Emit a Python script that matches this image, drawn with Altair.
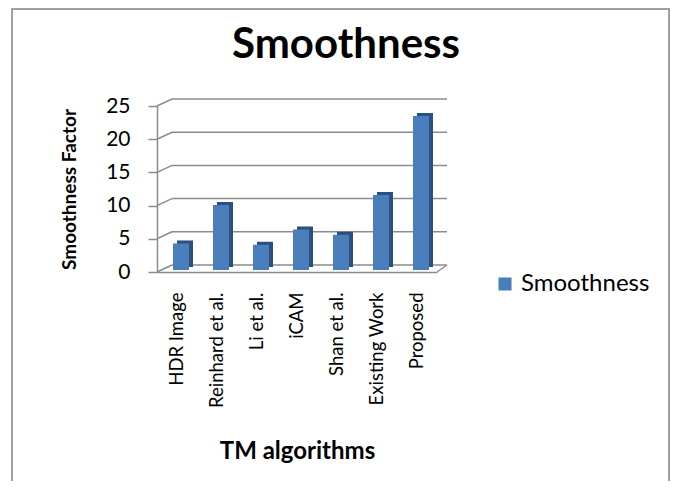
import altair as alt
import pandas as pd

categories = ["HDR Image", "Reinhard et al.", "Li et al.", "iCAM", "Shan et al.", "Existing Work", "Proposed"]
values = [4.0, 9.8, 3.8, 6.1, 5.3, 11.3, 23.2]
series_name = "Smoothness"
chart_title = "Smoothness"
y_ticks = [0, 5, 10, 15, 20, 25]

df = pd.DataFrame({"cat": categories, "val": values, "series": [series_name] * len(categories)})
grid = pd.DataFrame({"v": y_ticks})

W, H = 280, 166
FONT = "Lato"
GRID = "#8c8c8c"
BORDER = "#a0a0a0"

yscale = alt.Scale(domain=[0, 25], nice=False)
xscale = alt.Scale(domain=categories, paddingInner=0, paddingOuter=0)

x_axis = alt.Axis(title="TM algorithms", labelAngle=-90, labelAlign="right", labelBaseline="middle",
                  labelPadding=20, ticks=False, domainColor=GRID, domainWidth=1.5,
                  labelFont=FONT, labelFontSize=18.5, labelColor="#000",
                  titleFont=FONT, titleFontSize=24, titleFontWeight="bold", titleColor="#000",
                  titlePadding=32, grid=False)
y_axis = alt.Axis(title="Smoothness Factor", values=y_ticks, grid=False, tickSize=9, tickColor=GRID,
                  tickWidth=1.5, domainColor=GRID, domainWidth=1.5, labelPadding=18,
                  labelFont=FONT, labelFontSize=21, labelColor="#000",
                  titleFont=FONT, titleFontSize=19, titleFontWeight="bold", titleColor="#000",
                  titlePadding=26)

back = alt.Chart(df).mark_bar(size=16, color="#2b4f7e", xOffset=8, yOffset=-5, y2Offset=-5).encode(
    x=alt.X("cat:N", scale=xscale, axis=x_axis),
    y=alt.Y("val:Q", scale=yscale, axis=y_axis),
)

front = alt.Chart(df).mark_bar(size=16, xOffset=4, yOffset=-2, y2Offset=-2).encode(
    x=alt.X("cat:N", scale=xscale, axis=x_axis),
    y=alt.Y("val:Q", scale=yscale, axis=y_axis),
    color=alt.Color("series:N", scale=alt.Scale(range=["#4a7ebb"]),
                    legend=alt.Legend(title=None, orient="none", legendX=336, legendY=166,
                                      symbolType="square", symbolSize=170, symbolStrokeWidth=0,
                                      labelFont=FONT, labelFontSize=24, labelColor="#000")),
)

back_grid = alt.Chart(grid).mark_rule(color=GRID, strokeWidth=1.5, yOffset=-7).encode(
    y=alt.Y("v:Q", scale=yscale, axis=y_axis), x=alt.value(15), x2=alt.value(290)
)
connectors = alt.Chart(grid).mark_rule(color=GRID, strokeWidth=1.5, y2Offset=-7).encode(
    y=alt.Y("v:Q", scale=yscale, axis=y_axis), y2=alt.Y2("v"), x=alt.value(0), x2=alt.value(15)
)
floor_edge = alt.Chart(grid).transform_filter(alt.datum.v == 0).mark_rule(
    color=GRID, strokeWidth=1.5, y2Offset=-7).encode(
    y=alt.Y("v:Q", scale=yscale, axis=y_axis), y2=alt.Y2("v"), x=alt.value(280), x2=alt.value(290)
)

one = alt.Chart(grid).transform_filter(alt.datum.v == 0)
border_left = one.mark_rule(color=BORDER, strokeWidth=2).encode(
    x=alt.value(-145), y=alt.value(-97), y2=alt.value(376)
)
border_top = one.mark_rule(color=BORDER, strokeWidth=2).encode(
    x=alt.value(-146), x2=alt.value(513), y=alt.value(-97)
)
border_right = one.mark_rule(color=BORDER, strokeWidth=2).encode(
    x=alt.value(512), y=alt.value(-97), y2=alt.value(376)
)

title_text = one.mark_text(text=chart_title, font=FONT, fontSize=42, fontWeight="bold", color="#000",
                           align="center", baseline="alphabetic").encode(
    x=alt.value(189), y=alt.value(-48)
)

chart = alt.layer(border_left, border_top, border_right, title_text,
                  back_grid, connectors, floor_edge, back, front).properties(
    width=W, height=H,
    autosize=alt.AutoSizeParams(type="none"),
    padding={"left": 149, "top": 98, "right": 234, "bottom": 209},
).configure_view(stroke=None)

chart.save("out.html", embed_options={"renderer": "svg", "actions": False})
